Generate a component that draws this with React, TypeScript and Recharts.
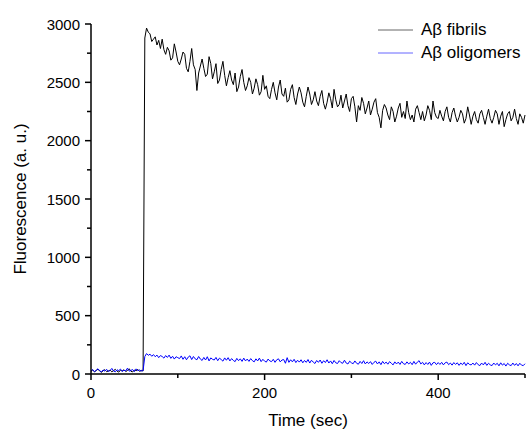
import React from 'react';
import { LineChart, Line, XAxis, YAxis, Legend } from 'recharts';

// Sampling interval of the recordings (seconds)
const TIME_STEP = 2;

// Aβ fibrils fluorescence, t = 0, 2, 4, ... 500 s
const FIBRILS: number[] = [
  22, 35, 18, 30, 41, 25, 15, 28, 37, 20,
  26, 33, 19, 29, 40, 24, 17, 31, 27, 36,
  21, 30, 45, 23, 18, 34, 28, 39, 22, 31,
  26,
  2880, 2965, 2930, 2915, 2850, 2870, 2890, 2820, 2860, 2790,
  2870, 2780, 2740, 2800, 2770, 2690, 2710, 2830, 2760, 2680,
  2650, 2700, 2760, 2740, 2620, 2590, 2680, 2790, 2650, 2610,
  2430, 2580, 2640, 2700, 2620, 2550, 2570, 2720, 2660, 2530,
  2590, 2660, 2490, 2520, 2610, 2680, 2560, 2470, 2540, 2600,
  2520, 2480, 2580, 2420, 2460, 2550, 2610, 2500, 2430, 2470,
  2540, 2500, 2400, 2450, 2530, 2480, 2390, 2420, 2560, 2440,
  2470, 2380, 2360, 2440, 2500, 2410, 2350, 2460, 2520, 2400,
  2380, 2450, 2330, 2350, 2440, 2480, 2370, 2310, 2400, 2460,
  2410, 2330, 2290, 2380, 2460, 2400, 2310, 2350, 2420, 2340,
  2300, 2380, 2430, 2320, 2270, 2330, 2410, 2360, 2280, 2440,
  2350, 2290, 2310, 2390, 2280, 2340, 2400, 2300, 2250, 2360,
  2380, 2290, 2160, 2300, 2260, 2370, 2320, 2230, 2280, 2340,
  2220, 2270, 2330, 2360, 2240, 2200, 2110, 2260, 2310, 2280,
  2220, 2180, 2290, 2250, 2160, 2210, 2280, 2320, 2200, 2250,
  2190, 2340, 2240, 2180, 2220, 2160, 2270, 2300, 2240, 2180,
  2250, 2170, 2220, 2300, 2260, 2180, 2340, 2240, 2200, 2190,
  2260, 2210, 2170, 2250, 2290, 2200, 2160, 2240, 2280, 2210,
  2160, 2200, 2260, 2230, 2150, 2190, 2290, 2220, 2140, 2210,
  2250, 2180, 2150, 2230, 2260, 2200, 2140, 2210, 2270, 2190,
  2150, 2200, 2260, 2230, 2140, 2210, 2250, 2120, 2180, 2230,
  2250, 2170, 2200, 2270, 2190, 2140, 2230, 2200, 2150, 2220,
];

// Aβ oligomers fluorescence, t = 0, 2, 4, ... 500 s
const OLIGOMERS: number[] = [
  25, 38, 20, 32, 45, 28, 18, 35, 24, 40,
  22, 30, 48, 26, 19, 36, 29, 42, 21, 33,
  27, 50, 24, 31, 38, 20, 44, 28, 35, 25,
  30,
  150, 175, 160, 170, 152, 166, 148, 162, 140, 158,
  150, 136, 158, 142, 162, 134, 152, 128, 148, 140,
  132, 155, 126, 148, 122, 145, 156, 124, 150, 130,
  122, 150, 128, 116, 142, 120, 148, 112, 138, 126,
  120, 142, 114, 136, 124, 110, 138, 118, 140, 112,
  132, 116, 106, 134, 114, 130, 108, 136, 112, 128,
  108, 132, 114, 104, 130, 112, 136, 106, 126, 110,
  102, 128, 112, 106, 126, 100, 122, 130, 104, 120,
  124, 92, 140, 100, 122, 104, 126, 98, 118, 102,
  122, 96, 116, 100, 124, 94, 118, 102, 90, 116,
  100, 120, 92, 114, 98, 122, 94, 112, 88, 116,
  96, 90, 114, 98, 92, 118, 94, 86, 110, 96,
  88, 112, 92, 84, 108, 90, 114, 86, 104, 90,
  106, 82, 100, 110, 86, 104, 80, 108, 88, 102,
  84, 106, 92, 78, 104, 86, 102, 82, 108, 88,
  82, 104, 86, 100, 80, 108, 84, 102, 114, 86,
  100, 78, 98, 82, 102, 74, 96, 100, 80, 98,
  82, 100, 78, 96, 102, 80, 94, 76, 98, 82,
  96, 74, 94, 80, 100, 72, 96, 82, 78, 94,
  76, 98, 80, 72, 94, 78, 100, 74, 92, 78,
  72, 94, 78, 92, 70, 96, 76, 90, 68, 92,
  78, 72, 94, 74, 90, 70, 92, 76, 72, 88,
];

const X_TICKS = [0, 100, 200, 300, 400, 500];
const X_LABELED = [0, 200, 400];
const Y_TICKS = [0, 250, 500, 750, 1000, 1250, 1500, 1750, 2000, 2250, 2500, 2750, 3000];
const Y_LABELED = [0, 500, 1000, 1500, 2000, 2500, 3000];

const SERIES = [
  { key: 'fibrils', name: 'A\u03b2 fibrils', color: '#000000' },
  { key: 'oligomers', name: 'A\u03b2 oligomers', color: '#0000ff' },
];

const data = FIBRILS.map((v, i) => ({
  t: i * TIME_STEP,
  fibrils: v,
  oligomers: OLIGOMERS[i],
}));

const FONT = '"Liberation Sans", Arial, sans-serif';
const TEXT_COLOR = '#000';

const XTick = (props: any) => {
  const { x, y, payload } = props;
  const labeled = X_LABELED.includes(payload.value);
  return (
    <g>
      <line x1={x} y1={y} x2={x} y2={y + (labeled ? 6 : 4)} stroke="#000" strokeWidth={1.5} />
      {labeled && (
        <text x={x} y={y + 24} textAnchor="middle" fontSize={15} fontFamily={FONT} fill={TEXT_COLOR}>
          {payload.value}
        </text>
      )}
    </g>
  );
};

const YTick = (props: any) => {
  const { x, y, payload } = props;
  const labeled = Y_LABELED.includes(payload.value);
  return (
    <g>
      <line x1={x} y1={y} x2={x - (labeled ? 6 : 4)} y2={y} stroke="#000" strokeWidth={1.5} />
      {labeled && (
        <text x={x - 11} y={y + 5.5} textAnchor="end" fontSize={15} fontFamily={FONT} fill={TEXT_COLOR}>
          {payload.value}
        </text>
      )}
    </g>
  );
};

const XTitle = (props: any) => {
  const vb = props.viewBox || {};
  return (
    <text x={vb.x + vb.width / 2} y={vb.y + 52} textAnchor="middle" fontSize={17} fontFamily={FONT} fill={TEXT_COLOR}>
      Time (sec)
    </text>
  );
};

const YTitle = (props: any) => {
  const vb = props.viewBox || {};
  const cx = 20;
  const cy = vb.y + vb.height / 2;
  return (
    <text
      x={cx}
      y={cy}
      transform={`rotate(-90, ${cx}, ${cy})`}
      textAnchor="middle"
      dominantBaseline="central"
      fontSize={17}
      fontFamily={FONT}
      fill={TEXT_COLOR}
    >
      Fluorescence (a. u.)
    </text>
  );
};

const LegendContent = () => (
  <div style={{ fontFamily: FONT, fontSize: 17, color: TEXT_COLOR }}>
    {SERIES.map((s) => (
      <div key={s.key} style={{ display: 'flex', alignItems: 'center', height: 23, whiteSpace: 'nowrap' }}>
        <svg width={45} height={10} style={{ display: 'block' }}>
          <line x1={2} y1={5} x2={37} y2={5} stroke={s.color} strokeWidth={1} strokeOpacity={0.6} />
        </svg>
        <span>{s.name}</span>
      </div>
    ))}
  </div>
);

export default function App() {
  return (
    <div style={{ position: 'absolute', left: 0, top: 0, width: 530, height: 429, background: '#fff' }}>
      <LineChart width={530} height={429} data={data} margin={{ top: 24, right: 5, bottom: 0, left: 0 }}>
        <XAxis
          dataKey="t"
          type="number"
          domain={[0, 500]}
          ticks={X_TICKS}
          interval={0}
          height={55}
          tickSize={0}
          tickMargin={0}
          tickLine={false}
          tick={<XTick />}
          axisLine={{ stroke: '#000', strokeWidth: 1.5 }}
          label={<XTitle />}
        />
        <YAxis
          type="number"
          domain={[0, 3000]}
          ticks={Y_TICKS}
          interval={0}
          width={91}
          tickSize={0}
          tickMargin={0}
          tickLine={false}
          tick={<YTick />}
          axisLine={{ stroke: '#000', strokeWidth: 1.5 }}
          label={<YTitle />}
        />
        <Legend
          layout="vertical"
          align="center"
          verticalAlign="middle"
          content={<LegendContent />}
          wrapperStyle={{ position: 'absolute', left: 376, top: 18, width: 160, height: 46 }}
        />
        {SERIES.map((s) => (
          <Line
            key={s.key}
            dataKey={s.key}
            name={s.name}
            stroke={s.color}
            strokeWidth={1}
            dot={false}
            activeDot={false}
            isAnimationActive={false}
          />
        ))}
      </LineChart>
    </div>
  );
}
